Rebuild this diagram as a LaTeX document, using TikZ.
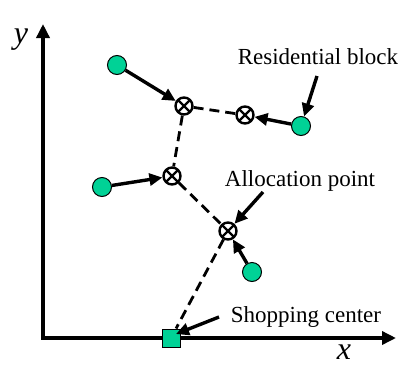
\documentclass[tikz,border=0pt]{standalone}
\usepackage{fontspec}
\setmainfont{Liberation Serif}
\usetikzlibrary{arrows.meta}
\definecolor{blockgreen}{RGB}{0,210,150}
\tikzset{
  resblock/.style={circle,draw=black,line width=1pt,fill=blockgreen,minimum size=19pt,inner sep=0pt},
  alloc/.style={circle,draw=black,line width=2.4pt,fill=white,minimum size=17pt,inner sep=0pt,
    path picture={
      \draw[line width=2.4pt] (path picture bounding box.center) ++(-6pt,-6pt) -- ++(12pt,12pt);
      \draw[line width=2.4pt] (path picture bounding box.center) ++(-6pt,6pt) -- ++(12pt,-12pt);
  }},
  shopbox/.style={rectangle,draw=black,line width=1pt,fill=blockgreen,minimum size=18pt,inner sep=0pt},
  flow/.style={line width=3.4pt,-{Triangle[length=13pt,width=12pt]}},
  axis/.style={line width=3.4pt,-{Triangle[length=14pt,width=13pt]}},
  link/.style={line width=2.8pt,dash pattern=on 10pt off 6pt},
  lbl/.style={font=\fontsize{23}{27}\selectfont,inner sep=0pt},
  axlbl/.style={font=\fontsize{32}{36}\selectfont\itshape,inner sep=0pt}
}
\begin{document}
\begin{tikzpicture}[x=1pt,y=-1pt]
\useasboundingbox (0,0) rectangle (414,367);
% axes
\coordinate (O) at (43,338);
\coordinate (Ytip) at (43,24);
\coordinate (Xtip) at (396,338);
\draw[axis] (O) -- (Ytip);
\draw[axis] ([xshift=-1.7pt]O) -- (Xtip);
\node[axlbl] (ylab) at (21,40) {y};
\node[axlbl] (xlab) at (344,352) {x};
% allocation points
\node[alloc] (a1) at (184,106) {};
\node[alloc] (a2) at (245,115) {};
\node[alloc] (a3) at (172,176) {};
\node[alloc] (a4) at (228,231) {};
% shopping center
\node[shopbox] (sc) at (171,338) {};
% dashed links
\draw[link] (a1) -- (a2);
\draw[link] (a1) -- (a3);
\draw[link] (a3) -- (a4);
\draw[link] (a4) -- (sc);
% residential blocks
\node[resblock] (r1) at (117,65) {};
\node[resblock] (r2) at (301,126) {};
\node[resblock] (r3) at (102,187) {};
\node[resblock] (r4) at (252,272) {};
\draw[flow] (r1) -- (a1);
\draw[flow] (r2) -- (a2);
\draw[flow] (r3) -- (a3);
\draw[flow] (r4) -- (a4);
% labels
\node[lbl] (lres) at (318,57) {Residential block};
\node[lbl] (lalloc) at (300,181) {Allocation point};
\node[lbl] (lshop) at (306,317) {Shopping center};
\coordinate (s1) at (317,76);
\coordinate (s2) at (263,192);
\coordinate (s3) at (219,317);
\coordinate (sct) at (176,334);
\draw[flow] (s1) -- (r2);
\draw[flow] (s2) -- (a4);
\draw[flow] (s3) -- (sct);
\end{tikzpicture}
\end{document}
